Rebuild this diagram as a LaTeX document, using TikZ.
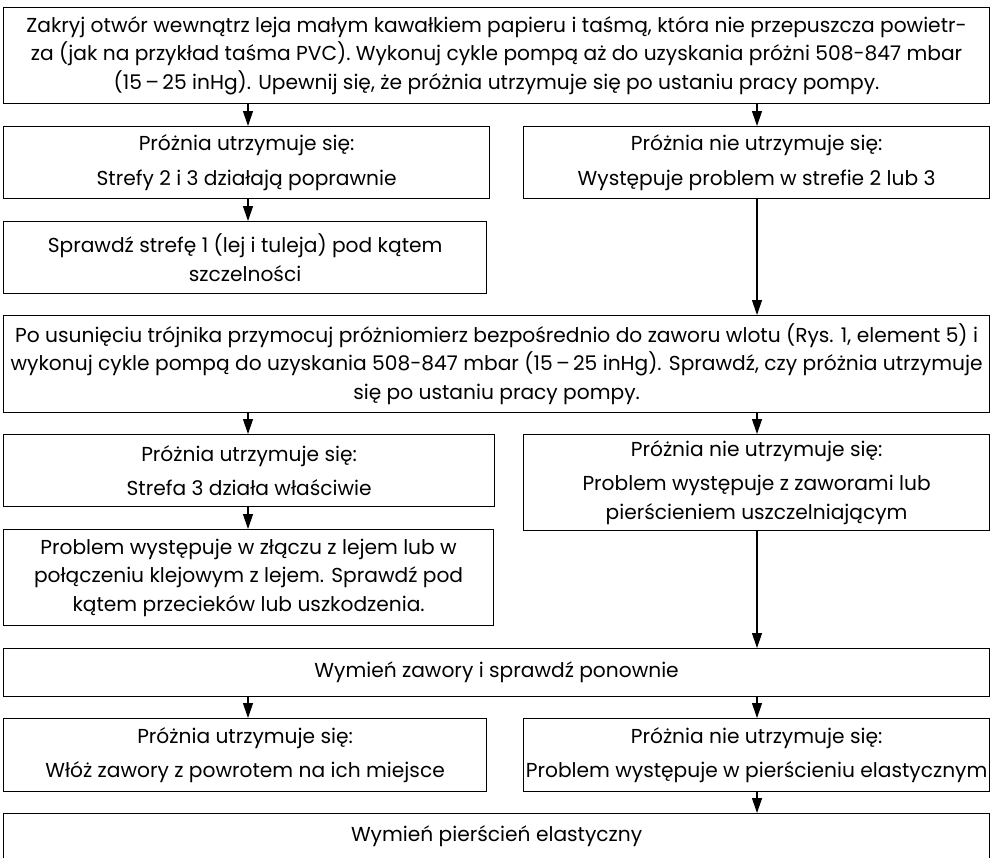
\documentclass[tikz,border=0pt]{standalone}
\usepackage{fontspec}
\setmainfont{Poppins}
\usetikzlibrary{arrows.meta}

\newcommand\boxfont{\fontsize{20.2}{28.5}\selectfont}

\tikzset{
  box/.style={draw, line width=1.2pt, inner sep=0pt, anchor=north west,
    align=center, font=\boxfont},
  arr/.style={line width=1.2pt, -{Triangle[length=15pt,width=10pt]}},
}

\begin{document}
\begin{tikzpicture}[x=1pt, y=-1pt]
  \useasboundingbox (0,0) rectangle (990,857);

  % columns of the connectors
  \coordinate (xl) at (248,0);
  \coordinate (xr) at (757,0);

  \node[box, minimum width=986pt, minimum height=96pt] (b1) at (3,7)
    {Zakryj otwór wewnątrz leja małym kawałkiem papieru i taśmą, która nie przepuszcza powietr-\\
     za (jak na przykład taśma PVC). Wykonuj cykle pompą aż do uzyskania próżni 508-847 mbar\\
     (15\,–\,25 inHg). Upewnij się, że próżnia utrzymuje się po ustaniu pracy pompy.};

  \node[box, minimum width=486pt, minimum height=72pt] (b2a) at (3,126)
    {Próżnia utrzymuje się:\\[6pt] Strefy 2 i 3 działają poprawnie};
  \node[box, minimum width=466pt, minimum height=72pt] (b2b) at (523,126)
    {Próżnia nie utrzymuje się:\\[6pt] Występuje problem w strefie 2 lub 3};

  \node[box, minimum width=483pt, minimum height=72pt] (b3) at (3,221)
    {Sprawdź strefę 1 (lej i tuleja) pod kątem\\ szczelności};

  \node[box, minimum width=986pt, minimum height=97pt] (b4) at (3,315)
    {Po usunięciu trójnika przymocuj próżniomierz bezpośrednio do zaworu wlotu (Rys. 1, element 5) i\\
     wykonuj cykle pompą do uzyskania 508-847 mbar (15\,–\,25 inHg). Sprawdź, czy próżnia utrzymuje\\
     się po ustaniu pracy pompy.};

  \node[box, minimum width=491pt, minimum height=72pt] (b5a) at (3,434)
    {Próżnia utrzymuje się:\\[6pt] Strefa 3 działa właściwie};
  \node[box, minimum width=466pt, minimum height=96pt] (b5b) at (523,434)
    {Próżnia nie utrzymuje się:\\[6pt] Problem występuje z zaworami lub\\ pierścieniem uszczelniającym};

  \node[box, minimum width=490pt, minimum height=96pt] (b6) at (3,529)
    {Problem występuje w złączu z lejem lub w\\ połączeniu klejowym z lejem. Sprawdź pod\\ kątem przecieków lub uszkodzenia.};

  \node[box, minimum width=986pt, minimum height=48pt] (b7) at (3,648)
    {Wymień zawory i sprawdź ponownie};

  \node[box, minimum width=483pt, minimum height=73pt] (b8a) at (3,718)
    {Próżnia utrzymuje się:\\[6pt] Włóż zawory z powrotem na ich miejsce};
  \node[box, minimum width=466pt, minimum height=73pt] (b8b) at (523,718)
    {Próżnia nie utrzymuje się:\\[6pt] Problem występuje w pierścieniu elastycznym};

  \node[box, minimum width=986pt, minimum height=46pt] (b9) at (3,813)
    {Wymień pierścień elastyczny};

  % connectors
  \draw[arr] (b1.south -| xl) -- (b2a.north -| xl);
  \draw[arr] (b1.south -| xr) -- (b2b.north -| xr);
  \draw[arr] (b2a.south -| xl) -- (b3.north -| xl);
  \draw[arr] (b2b.south -| xr) -- (b4.north -| xr);
  \draw[arr] (b4.south -| xl) -- (b5a.north -| xl);
  \draw[arr] (b4.south -| xr) -- (b5b.north -| xr);
  \draw[arr] (b5a.south -| xl) -- (b6.north -| xl);
  \draw[arr] (b5b.south -| xr) -- (b7.north -| xr);
  \draw[arr] (b7.south -| xl) -- (b8a.north -| xl);
  \draw[arr] (b7.south -| xr) -- (b8b.north -| xr);
  \draw[arr] (b8b.south -| xr) -- (b9.north -| xr);
\end{tikzpicture}
\end{document}
